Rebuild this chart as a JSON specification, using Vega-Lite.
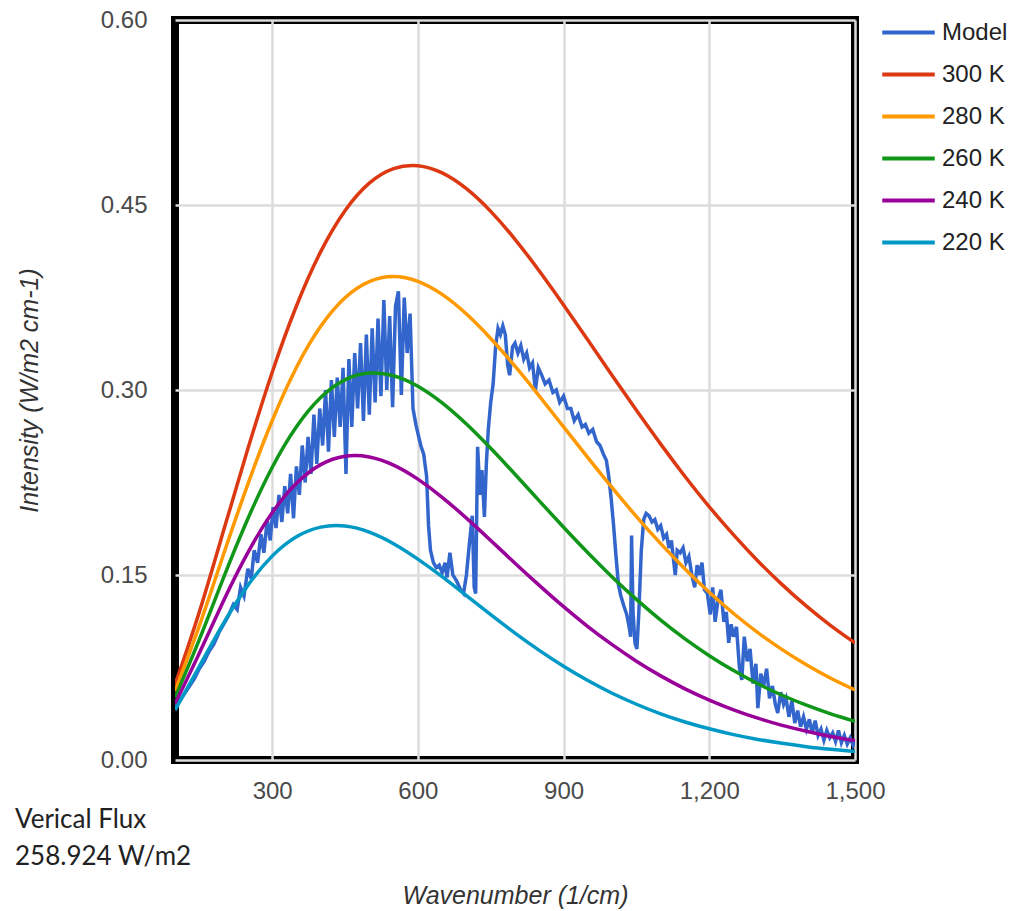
{
"$schema":"https://vega.github.io/schema/vega-lite/v6.json",
"width":680,"height":740,
"autosize":{"type":"none"},
"padding":{"left":175,"top":20,"right":161,"bottom":151},
"config":{"view":{"stroke":"black","strokeWidth":8},"font":"Liberation Sans"},
"title":{"text":["Verical Flux","258.924 W/m2"],"orient":"bottom","anchor":"start","frame":"group","dx":-160,"dy":-105,"font":"Lato","fontSize":26,"fontWeight":"normal","color":"#222","lineHeight":37,"align":"left"},
"datasets":{
"planck":[
{"x":100,"300 K":0.0608,"280 K":0.0557,"260 K":0.0506,"240 K":0.0456,"220 K":0.0405},
{"x":150,"300 K":0.1199,"280 K":0.1087,"260 K":0.0976,"240 K":0.0866,"220 K":0.0758},
{"x":200,"300 K":0.1860,"280 K":0.1668,"260 K":0.1479,"240 K":0.1292,"220 K":0.1109},
{"x":250,"300 K":0.2523,"280 K":0.2237,"260 K":0.1956,"240 K":0.1682,"220 K":0.1416},
{"x":300,"300 K":0.3142,"280 K":0.2751,"260 K":0.2372,"240 K":0.2004,"220 K":0.1653},
{"x":350,"300 K":0.3681,"280 K":0.3183,"260 K":0.2702,"240 K":0.2243,"220 K":0.1810},
{"x":400,"300 K":0.4122,"280 K":0.3516,"260 K":0.2939,"240 K":0.2395,"220 K":0.1888},
{"x":450,"300 K":0.4454,"280 K":0.3748,"260 K":0.3082,"240 K":0.2463,"220 K":0.1897},
{"x":500,"300 K":0.4677,"280 K":0.3879,"260 K":0.3137,"240 K":0.2457,"220 K":0.1848},
{"x":550,"300 K":0.4795,"280 K":0.3920,"260 K":0.3116,"240 K":0.2391,"220 K":0.1754},
{"x":600,"300 K":0.4819,"280 K":0.3881,"260 K":0.3031,"240 K":0.2277,"220 K":0.1629},
{"x":650,"300 K":0.4760,"280 K":0.3775,"260 K":0.2896,"240 K":0.2130,"220 K":0.1486},
{"x":700,"300 K":0.4632,"280 K":0.3616,"260 K":0.2724,"240 K":0.1961,"220 K":0.1332},
{"x":750,"300 K":0.4448,"280 K":0.3418,"260 K":0.2527,"240 K":0.1780,"220 K":0.1178},
{"x":800,"300 K":0.4222,"280 K":0.3193,"260 K":0.2317,"240 K":0.1596,"220 K":0.1029},
{"x":850,"300 K":0.3965,"280 K":0.2951,"260 K":0.2101,"240 K":0.1416,"220 K":0.0889},
{"x":900,"300 K":0.3690,"280 K":0.2701,"260 K":0.1887,"240 K":0.1243,"220 K":0.0760},
{"x":950,"300 K":0.3405,"280 K":0.2452,"260 K":0.1680,"240 K":0.1082,"220 K":0.0644},
{"x":1000,"300 K":0.3117,"280 K":0.2208,"260 K":0.1484,"240 K":0.0935,"220 K":0.0541},
{"x":1050,"300 K":0.2835,"280 K":0.1974,"260 K":0.1302,"240 K":0.0801,"220 K":0.0452},
{"x":1100,"300 K":0.2561,"280 K":0.1754,"260 K":0.1134,"240 K":0.0682,"220 K":0.0374},
{"x":1150,"300 K":0.2299,"280 K":0.1549,"260 K":0.0982,"240 K":0.0577,"220 K":0.0308},
{"x":1200,"300 K":0.2053,"280 K":0.1360,"260 K":0.0846,"240 K":0.0486,"220 K":0.0253},
{"x":1250,"300 K":0.1825,"280 K":0.1188,"260 K":0.0725,"240 K":0.0407,"220 K":0.0206},
{"x":1300,"300 K":0.1614,"280 K":0.1033,"260 K":0.0618,"240 K":0.0339,"220 K":0.0167},
{"x":1350,"300 K":0.1422,"280 K":0.0895,"260 K":0.0525,"240 K":0.0281,"220 K":0.0135},
{"x":1400,"300 K":0.1247,"280 K":0.0772,"260 K":0.0444,"240 K":0.0233,"220 K":0.0108},
{"x":1450,"300 K":0.1090,"280 K":0.0663,"260 K":0.0374,"240 K":0.0191,"220 K":0.0087},
{"x":1500,"300 K":0.0949,"280 K":0.0568,"260 K":0.0314,"240 K":0.0157,"220 K":0.0069}
],
"model":[
{"s":"Model","x":100,"v":0.043},{"s":"Model","x":110,"v":0.048},{"s":"Model","x":120,"v":0.054},{"s":"Model","x":130,"v":0.060},{"s":"Model","x":140,"v":0.066},{"s":"Model","x":150,"v":0.074},{"s":"Model","x":160,"v":0.080},{"s":"Model","x":170,"v":0.088},{"s":"Model","x":180,"v":0.094},{"s":"Model","x":190,"v":0.103},{"s":"Model","x":200,"v":0.110},{"s":"Model","x":210,"v":0.117},{"s":"Model","x":220,"v":0.126},{"s":"Model","x":228,"v":0.122},{"s":"Model","x":235,"v":0.140},{"s":"Model","x":242,"v":0.133},{"s":"Model","x":250,"v":0.155},{"s":"Model","x":257,"v":0.147},{"s":"Model","x":263,"v":0.170},{"s":"Model","x":270,"v":0.160},{"s":"Model","x":277,"v":0.183},{"s":"Model","x":283,"v":0.168},{"s":"Model","x":290,"v":0.195},{"s":"Model","x":296,"v":0.178},{"s":"Model","x":302,"v":0.205},{"s":"Model","x":308,"v":0.188},{"s":"Model","x":314,"v":0.215},{"s":"Model","x":320,"v":0.193},{"s":"Model","x":326,"v":0.222},{"s":"Model","x":332,"v":0.200},{"s":"Model","x":338,"v":0.232},{"s":"Model","x":344,"v":0.196},{"s":"Model","x":350,"v":0.238},{"s":"Model","x":356,"v":0.215},{"s":"Model","x":362,"v":0.255},{"s":"Model","x":368,"v":0.225},{"s":"Model","x":374,"v":0.262},{"s":"Model","x":380,"v":0.232},{"s":"Model","x":386,"v":0.280},{"s":"Model","x":392,"v":0.240},{"s":"Model","x":398,"v":0.285},{"s":"Model","x":404,"v":0.255},{"s":"Model","x":410,"v":0.300},{"s":"Model","x":416,"v":0.250},{"s":"Model","x":422,"v":0.308},{"s":"Model","x":428,"v":0.262},{"s":"Model","x":434,"v":0.310},{"s":"Model","x":440,"v":0.270},{"s":"Model","x":446,"v":0.318},{"s":"Model","x":452,"v":0.232},{"s":"Model","x":458,"v":0.325},{"s":"Model","x":464,"v":0.270},{"s":"Model","x":470,"v":0.330},{"s":"Model","x":476,"v":0.285},{"s":"Model","x":482,"v":0.338},{"s":"Model","x":488,"v":0.275},{"s":"Model","x":494,"v":0.345},{"s":"Model","x":500,"v":0.280},{"s":"Model","x":506,"v":0.350},{"s":"Model","x":512,"v":0.290},{"s":"Model","x":518,"v":0.358},{"s":"Model","x":524,"v":0.295},{"s":"Model","x":530,"v":0.373},{"s":"Model","x":536,"v":0.300},{"s":"Model","x":542,"v":0.360},{"s":"Model","x":548,"v":0.286},{"s":"Model","x":554,"v":0.368},{"s":"Model","x":560,"v":0.380},{"s":"Model","x":566,"v":0.296},{"s":"Model","x":572,"v":0.375},{"s":"Model","x":578,"v":0.330},{"s":"Model","x":584,"v":0.362},{"s":"Model","x":590,"v":0.285},{"s":"Model","x":596,"v":0.272},{"s":"Model","x":600,"v":0.265},{"s":"Model","x":606,"v":0.255},{"s":"Model","x":612,"v":0.248},{"s":"Model","x":618,"v":0.230},{"s":"Model","x":622,"v":0.190},{"s":"Model","x":626,"v":0.170},{"s":"Model","x":632,"v":0.160},{"s":"Model","x":638,"v":0.156},{"s":"Model","x":644,"v":0.158},{"s":"Model","x":650,"v":0.152},{"s":"Model","x":656,"v":0.160},{"s":"Model","x":660,"v":0.148},{"s":"Model","x":666,"v":0.168},{"s":"Model","x":672,"v":0.150},{"s":"Model","x":680,"v":0.145},{"s":"Model","x":688,"v":0.138},{"s":"Model","x":694,"v":0.135},{"s":"Model","x":700,"v":0.150},{"s":"Model","x":706,"v":0.175},{"s":"Model","x":712,"v":0.198},{"s":"Model","x":716,"v":0.140},{"s":"Model","x":719,"v":0.135},{"s":"Model","x":723,"v":0.254},{"s":"Model","x":728,"v":0.215},{"s":"Model","x":732,"v":0.235},{"s":"Model","x":737,"v":0.197},{"s":"Model","x":741,"v":0.240},{"s":"Model","x":745,"v":0.268},{"s":"Model","x":750,"v":0.290},{"s":"Model","x":755,"v":0.305},{"s":"Model","x":760,"v":0.335},{"s":"Model","x":765,"v":0.350},{"s":"Model","x":770,"v":0.345},{"s":"Model","x":775,"v":0.352},{"s":"Model","x":780,"v":0.345},{"s":"Model","x":785,"v":0.320},{"s":"Model","x":789,"v":0.312},{"s":"Model","x":795,"v":0.335},{"s":"Model","x":800,"v":0.338},{"s":"Model","x":806,"v":0.330},{"s":"Model","x":812,"v":0.336},{"s":"Model","x":818,"v":0.325},{"s":"Model","x":824,"v":0.330},{"s":"Model","x":830,"v":0.318},{"s":"Model","x":836,"v":0.322},{"s":"Model","x":842,"v":0.300},{"s":"Model","x":848,"v":0.318},{"s":"Model","x":855,"v":0.312},{"s":"Model","x":862,"v":0.305},{"s":"Model","x":870,"v":0.308},{"s":"Model","x":878,"v":0.298},{"s":"Model","x":885,"v":0.300},{"s":"Model","x":892,"v":0.290},{"s":"Model","x":900,"v":0.295},{"s":"Model","x":908,"v":0.285},{"s":"Model","x":915,"v":0.285},{"s":"Model","x":922,"v":0.275},{"s":"Model","x":930,"v":0.280},{"s":"Model","x":938,"v":0.270},{"s":"Model","x":945,"v":0.272},{"s":"Model","x":952,"v":0.265},{"s":"Model","x":960,"v":0.268},{"s":"Model","x":968,"v":0.258},{"s":"Model","x":975,"v":0.255},{"s":"Model","x":982,"v":0.248},{"s":"Model","x":988,"v":0.243},{"s":"Model","x":993,"v":0.230},{"s":"Model","x":998,"v":0.212},{"s":"Model","x":1003,"v":0.190},{"s":"Model","x":1008,"v":0.165},{"s":"Model","x":1013,"v":0.142},{"s":"Model","x":1018,"v":0.133},{"s":"Model","x":1024,"v":0.125},{"s":"Model","x":1030,"v":0.118},{"s":"Model","x":1035,"v":0.108},{"s":"Model","x":1038,"v":0.100},{"s":"Model","x":1040,"v":0.182},{"s":"Model","x":1043,"v":0.120},{"s":"Model","x":1047,"v":0.095},{"s":"Model","x":1051,"v":0.090},{"s":"Model","x":1055,"v":0.120},{"s":"Model","x":1060,"v":0.170},{"s":"Model","x":1065,"v":0.195},{"s":"Model","x":1070,"v":0.200},{"s":"Model","x":1076,"v":0.198},{"s":"Model","x":1082,"v":0.193},{"s":"Model","x":1088,"v":0.195},{"s":"Model","x":1094,"v":0.187},{"s":"Model","x":1100,"v":0.190},{"s":"Model","x":1106,"v":0.180},{"s":"Model","x":1112,"v":0.183},{"s":"Model","x":1117,"v":0.172},{"s":"Model","x":1122,"v":0.178},{"s":"Model","x":1127,"v":0.160},{"s":"Model","x":1130,"v":0.150},{"s":"Model","x":1134,"v":0.170},{"s":"Model","x":1140,"v":0.168},{"s":"Model","x":1146,"v":0.172},{"s":"Model","x":1152,"v":0.160},{"s":"Model","x":1158,"v":0.165},{"s":"Model","x":1164,"v":0.150},{"s":"Model","x":1170,"v":0.140},{"s":"Model","x":1175,"v":0.158},{"s":"Model","x":1180,"v":0.150},{"s":"Model","x":1185,"v":0.160},{"s":"Model","x":1190,"v":0.138},{"s":"Model","x":1196,"v":0.135},{"s":"Model","x":1202,"v":0.118},{"s":"Model","x":1207,"v":0.140},{"s":"Model","x":1212,"v":0.112},{"s":"Model","x":1218,"v":0.130},{"s":"Model","x":1224,"v":0.138},{"s":"Model","x":1230,"v":0.112},{"s":"Model","x":1235,"v":0.120},{"s":"Model","x":1240,"v":0.095},{"s":"Model","x":1245,"v":0.110},{"s":"Model","x":1250,"v":0.100},{"s":"Model","x":1256,"v":0.108},{"s":"Model","x":1262,"v":0.075},{"s":"Model","x":1267,"v":0.065},{"s":"Model","x":1272,"v":0.100},{"s":"Model","x":1278,"v":0.080},{"s":"Model","x":1284,"v":0.090},{"s":"Model","x":1290,"v":0.062},{"s":"Model","x":1296,"v":0.078},{"s":"Model","x":1300,"v":0.042},{"s":"Model","x":1306,"v":0.070},{"s":"Model","x":1312,"v":0.060},{"s":"Model","x":1318,"v":0.074},{"s":"Model","x":1324,"v":0.050},{"s":"Model","x":1330,"v":0.060},{"s":"Model","x":1336,"v":0.045},{"s":"Model","x":1341,"v":0.038},{"s":"Model","x":1347,"v":0.055},{"s":"Model","x":1353,"v":0.045},{"s":"Model","x":1358,"v":0.050},{"s":"Model","x":1364,"v":0.035},{"s":"Model","x":1370,"v":0.048},{"s":"Model","x":1376,"v":0.030},{"s":"Model","x":1382,"v":0.040},{"s":"Model","x":1388,"v":0.027},{"s":"Model","x":1394,"v":0.035},{"s":"Model","x":1400,"v":0.025},{"s":"Model","x":1406,"v":0.033},{"s":"Model","x":1412,"v":0.022},{"s":"Model","x":1418,"v":0.032},{"s":"Model","x":1424,"v":0.020},{"s":"Model","x":1430,"v":0.025},{"s":"Model","x":1436,"v":0.016},{"s":"Model","x":1442,"v":0.024},{"s":"Model","x":1448,"v":0.018},{"s":"Model","x":1454,"v":0.022},{"s":"Model","x":1460,"v":0.015},{"s":"Model","x":1466,"v":0.024},{"s":"Model","x":1472,"v":0.014},{"s":"Model","x":1478,"v":0.020},{"s":"Model","x":1484,"v":0.013},{"s":"Model","x":1490,"v":0.018},{"s":"Model","x":1496,"v":0.012},{"s":"Model","x":1500,"v":0.015}
]
},
"encoding":{
"x":{"field":"x","type":"quantitative","scale":{"domain":[100,1500],"nice":false,"zero":false},
 "axis":{"title":"Wavenumber (1/cm)","values":[300,600,900,1200,1500],"format":",d","grid":true,"gridColor":"#dcdcdc","gridWidth":2.5,"domain":false,"ticks":false,"labelFlush":false,"labelPadding":19,"labelFontSize":24,"labelColor":"#4a4a4a","labelFont":"Liberation Sans","titleFont":"Liberation Sans","titleFontStyle":"italic","titleFontWeight":"normal","titleFontSize":25,"titleColor":"#333","titlePadding":80}},
"y":{"field":"v","type":"quantitative","scale":{"domain":[0,0.6],"nice":false},
 "axis":{"title":"Intensity (W/m2 cm-1)","values":[0,0.15,0.3,0.45,0.6],"format":".2f","grid":true,"gridColor":"#dcdcdc","gridWidth":2.5,"domain":false,"ticks":false,"labelFlush":false,"labelPadding":28,"labelFontSize":24,"labelColor":"#4a4a4a","labelFont":"Liberation Sans","titleFont":"Liberation Sans","titleFontStyle":"italic","titleFontWeight":"normal","titleFontSize":25,"titleColor":"#333","titlePadding":58}},
"color":{"field":"s","type":"nominal","scale":{"domain":["Model","300 K","280 K","260 K","240 K","220 K"],"range":["#3366cc","#dc3912","#ff9900","#109618","#990099","#0099c6"]},
 "legend":{"title":null,"orient":"none","legendX":721,"legendY":0,"padding":0,"symbolType":"M-2.5,0H2.5","symbolSize":441,"symbolStrokeWidth":4,"labelOffset":21,"labelFontSize":24,"labelColor":"#222","labelFont":"Liberation Sans","rowPadding":17}}
},
"layer":[
{"data":{"name":"model"},"mark":{"type":"line","strokeWidth":3.5,"clip":true}},
{"data":{"name":"planck"},"transform":[{"fold":["300 K","280 K","260 K","240 K","220 K"],"as":["s","v"]}],"mark":{"type":"line","strokeWidth":3.5,"interpolate":"natural","clip":true}}
]
}
